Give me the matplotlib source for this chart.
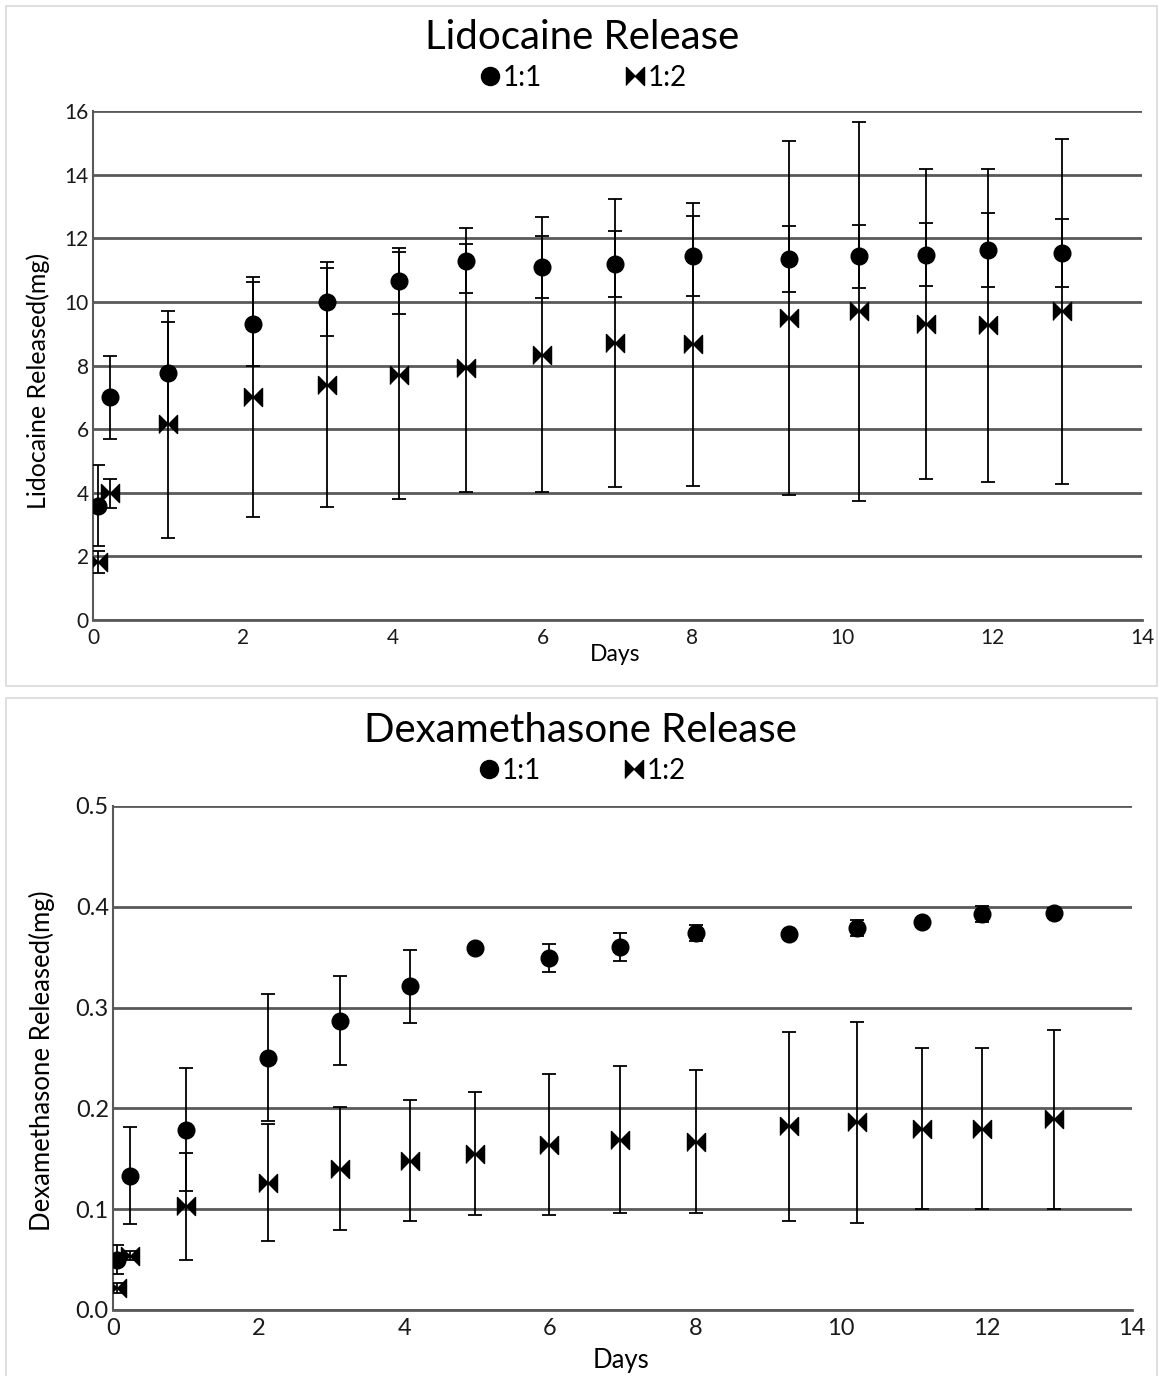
import numpy as np
from matplotlib import pyplot as plt
from matplotlib.patches import Rectangle
from matplotlib.lines import Line2D

################################################################################################### data
days = np.array([0.06, 0.23, 1.0, 2.13, 3.12, 4.08, 4.98, 5.99, 6.96, 8.01, 9.29, 10.22, 11.12, 11.94, 12.93])

lido_11     = np.array([3.6, 7.0, 7.77, 9.31, 10.0, 10.65, 11.30, 11.09, 11.19, 11.45, 11.35, 11.43, 11.49, 11.64, 11.54])
lido_11_err = np.array([1.27, 1.31, 1.6, 1.32, 1.06, 1.03, 1.03, 0.97, 1.03, 1.26, 1.05, 0.98, 1.0, 1.16, 1.08])
lido_12     = np.array([1.82, 3.98, 6.15, 7.02, 7.40, 7.69, 7.92, 8.34, 8.70, 8.67, 9.49, 9.70, 9.30, 9.26, 9.70])
lido_12_err = np.array([0.34, 0.46, 3.57, 3.77, 3.84, 3.88, 3.91, 4.33, 4.53, 4.45, 5.56, 5.97, 4.87, 4.93, 5.43])

dexa_11     = np.array([0.050, 0.133, 0.179, 0.250, 0.287, 0.321, 0.359, 0.349, 0.360, 0.374, 0.373, 0.379, 0.385, 0.393, 0.394])
dexa_11_err = np.array([0.014, 0.048, 0.061, 0.063, 0.044, 0.036, 0.003, 0.014, 0.014, 0.008, 0.002, 0.008, 0.003, 0.008, 0.005])
dexa_12     = np.array([0.022, 0.054, 0.103, 0.126, 0.140, 0.148, 0.155, 0.164, 0.169, 0.167, 0.182, 0.186, 0.180, 0.180, 0.189])
dexa_12_err = np.array([0.005, 0.004, 0.053, 0.058, 0.061, 0.060, 0.061, 0.070, 0.073, 0.071, 0.094, 0.100, 0.080, 0.080, 0.089])

series_labels = ['1:1', '1:2']

################################################################################################### style
plt.rcParams['font.family'] = ['Lato', 'DejaVu Sans']
grid_col = '#595959'
bowtie = [(-1, -1), (-1, 1), (0, 0), (1, 1), (1, -1), (0, 0)]

fig = plt.figure(figsize=(11.6, 13.76), dpi=100)

# light frames round each chart
fig.patches.append(Rectangle((0.0052, 0.5015), 0.9922, 0.4942, transform=fig.transFigure,
                             fill=False, edgecolor='#d9d9d9', lw=1.2))
fig.patches.append(Rectangle((0.0052, -0.01), 0.9922, 0.5027, transform=fig.transFigure,
                             fill=False, edgecolor='#d9d9d9', lw=1.2))


def draw_panel(rect, y1, e1, y2, e2, ylim, yticks, tick_fs, xpad):
    ax = fig.add_axes(rect)
    ax.errorbar(days, y1, yerr=e1, fmt='none', ecolor='black', elinewidth=1.3, capsize=5, capthick=1.3, zorder=3)
    ax.errorbar(days, y2, yerr=e2, fmt='none', ecolor='black', elinewidth=1.3, capsize=5, capthick=1.3, zorder=3)
    ax.plot(days, y1, ls='none', marker='o', color='black', markersize=12, zorder=4)
    ax.plot(days, y2, ls='none', marker=bowtie, color='black', markersize=13, zorder=4)
    ax.set_xlim(0, 14)
    ax.set_ylim(*ylim)
    ax.set_xticks(np.arange(0, 15, 2))
    ax.set_yticks(yticks)
    ax.yaxis.grid(True, color=grid_col, lw=2)
    ax.set_axisbelow(True)
    for s in ['top', 'right']:
        ax.spines[s].set_visible(False)
    ax.spines['left'].set_color(grid_col)
    ax.spines['left'].set_linewidth(1.5)
    ax.spines['bottom'].set_color(grid_col)
    ax.spines['bottom'].set_linewidth(2)
    ax.tick_params(length=0, labelsize=tick_fs, colors='#1a1a1a')
    ax.tick_params(axis='x', pad=xpad)
    ax.tick_params(axis='y', pad=3)
    return ax


def draw_legend(ax, x, y):
    handles = [Line2D([], [], ls='none', marker='o', color='black', markersize=13),
               Line2D([], [], ls='none', marker=bowtie, color='black', markersize=13)]
    ax.legend(handles, series_labels, loc='center', bbox_to_anchor=(x, y), bbox_transform=fig.transFigure,
              ncol=2, frameon=False, fontsize=20, handlelength=0.7, handletextpad=0.1, columnspacing=3.0)


################################################################################################### lidocaine
ax1 = draw_panel([0.0802, 0.5494, 0.9043, 0.3699], lido_11, lido_11_err, lido_12, lido_12_err,
                 (0, 16), np.arange(0, 17, 2), 15, 6)
fig.text(0.502, 0.9724, 'Lidocaine Release', ha='center', va='center', fontsize=29)
draw_legend(ax1, 0.503, 0.9433)
fig.text(0.0328, 0.7231, 'Lidocaine Released(mg)', rotation=90, ha='center', va='center', fontsize=18)
fig.text(0.530, 0.5240, 'Days', ha='center', va='center', fontsize=16.5)

################################################################################################### dexamethasone
ax2 = draw_panel([0.0974, 0.0480, 0.8785, 0.3663], dexa_11, dexa_11_err, dexa_12, dexa_12_err,
                 (0, 0.5), np.round(np.arange(0, 0.51, 0.1), 1), 17, 6)
ax2.yaxis.set_major_formatter(plt.FormatStrFormatter('%.1f'))
fig.text(0.500, 0.4688, 'Dexamethasone Release', ha='center', va='center', fontsize=29)
draw_legend(ax2, 0.502, 0.4397)
fig.text(0.0362, 0.2289, 'Dexamethasone Released(mg)', rotation=90, ha='center', va='center', fontsize=18.5)
fig.text(0.535, 0.0116, 'Days', ha='center', va='center', fontsize=18.5)

plt.savefig('out.png', dpi=100)
